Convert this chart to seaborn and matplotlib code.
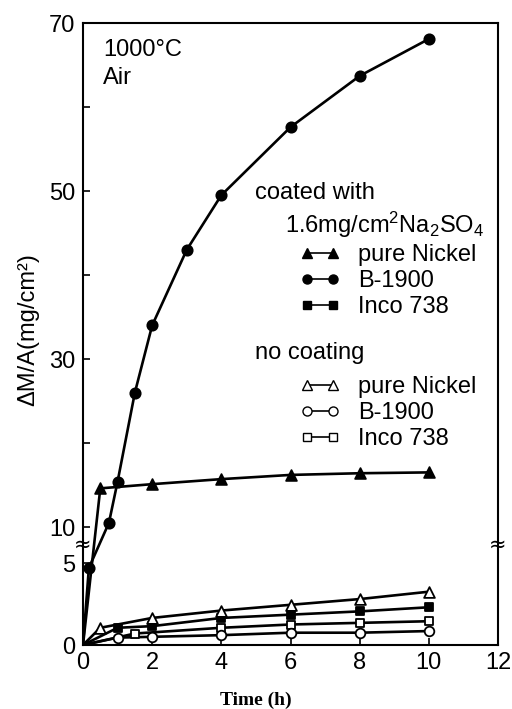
import numpy as np
import pandas as pd
import matplotlib
matplotlib.use("Agg")
import matplotlib.pyplot as plt
from matplotlib.lines import Line2D
import matplotlib.transforms as mtransforms
import seaborn as sns

# ---------------- data ----------------
t_ni_coat = [0, 0.5, 2, 4, 6, 8, 10]
y_ni_coat = [0, 14.6, 15.1, 15.7, 16.2, 16.4, 16.5]

t_b19_coat = [0, 0.17, 0.75, 1, 1.5, 2, 3, 4, 6, 8, 10]
y_b19_coat = [0, 4.7, 10.5, 15.4, 26.0, 34.0, 43.0, 49.5, 57.6, 63.7, 68.1]

t_inco_coat = [0, 1, 2, 4, 6, 8, 10]
y_inco_coat = [0, 1.05, 1.15, 1.65, 1.85, 2.05, 2.3]

t_ni_bare = [0, 0.5, 2, 4, 6, 8, 10]
y_ni_bare = [0, 1.05, 1.65, 2.1, 2.45, 2.8, 3.25]

t_b19_bare = [0, 1, 2, 4, 6, 8, 10]
y_b19_bare = [0, 0.45, 0.5, 0.6, 0.75, 0.75, 0.85]

t_inco_bare = [0, 1.5, 4, 6, 8, 10]
y_inco_bare = [0, 0.7, 1.05, 1.25, 1.35, 1.45]

x_ticks = [0, 2, 4, 6, 8, 10, 12]
y_ticks = [0, 5, 10, 30, 50, 70]
y_minor = [20, 40, 60]

legend_names = ["pure Nickel", "B-1900", "Inco 738"]

# ---------------- style ----------------
sns.set_theme(style="ticks")
plt.rcParams["font.family"] = ["Liberation Sans", "DejaVu Sans"]
plt.rcParams["mathtext.fontset"] = "custom"
plt.rcParams["mathtext.rm"] = "Liberation Sans"
plt.rcParams["mathtext.it"] = "Liberation Sans"
plt.rcParams["text.color"] = "black"
plt.rcParams["axes.labelcolor"] = "black"
plt.rcParams["xtick.color"] = "black"
plt.rcParams["ytick.color"] = "black"
FS = 17

fig = plt.figure(figsize=(5.12, 7.09), dpi=100)
W, H = 512, 709
ax = fig.add_axes([83 / W, 1 - 645 / H, 415 / W, 622 / H])


# broken (piecewise linear) y scale
def fwd(y):
    y = np.asarray(y, dtype=float)
    return np.where(y <= 5, y * 16.4,
                    np.where(y <= 10, 82 + (y - 5) * 7.2, 118 + (y - 10) * 8.4))


def inv(u):
    u = np.asarray(u, dtype=float)
    return np.where(u <= 82, u / 16.4,
                    np.where(u <= 118, 5 + (u - 82) / 7.2, 10 + (u - 118) / 8.4))


ax.set_yscale("function", functions=(fwd, inv))

series = [
    (t_b19_coat, y_b19_coat, "o", "black", 55),
    (t_ni_coat, y_ni_coat, "^", "black", 60),
    (t_inco_coat, y_inco_coat, "s", "black", 38),
    (t_ni_bare, y_ni_bare, "^", "white", 60),
    (t_inco_bare, y_inco_bare, "s", "white", 38),
    (t_b19_bare, y_b19_bare, "o", "white", 48),
]

for t, y, m, fc, s in series:
    df = pd.DataFrame({"t": t, "y": y})
    sns.lineplot(data=df, x="t", y="y", ax=ax, color="black", lw=1.9,
                 sort=False, estimator=None, zorder=2)
    pts = df[df["t"] > 0]
    sns.scatterplot(data=pts, x="t", y="y", ax=ax, marker=m, s=s,
                    facecolor=fc, edgecolor="black", linewidth=1.3, zorder=3)

ax.set_xlim(0, 12)
ax.set_ylim(0, 70)
ax.set_xticks(x_ticks)
ax.set_xticklabels([str(v) for v in x_ticks])
ax.set_yticks(y_ticks)
ax.set_yticklabels([str(v) for v in y_ticks])
ax.set_yticks(y_minor, minor=True)
ax.set_xlabel("")
ax.set_ylabel("")
ax.tick_params(axis="both", which="both", direction="in", length=5, width=1.2,
               colors="black", labelsize=FS, labelcolor="black")
ax.tick_params(axis="x", pad=5)
ax.tick_params(axis="y", pad=5.5)
for sp in ax.spines.values():
    sp.set_visible(True)
    sp.set_linewidth(1.5)
    sp.set_color("black")

# break marks on the y axis
bt = mtransforms.blended_transform_factory(ax.transAxes, ax.transData)
for xa in (0, 1):
    ax.text(xa, 7.6, "≈", transform=bt, ha="center", va="center",
            fontsize=15, color="black", family="DejaVu Sans")

# annotations
fig.text(103 / W, 1 - 50 / H, "1000°C", ha="left", va="center", fontsize=FS)
fig.text(103 / W, 1 - 78 / H, "Air", ha="left", va="center", fontsize=FS)
fig.text(255 / W, 1 - 193 / H, "coated with", ha="left", va="center", fontsize=FS)
fig.text(285 / W, 1 - 225 / H, r"1.6mg/cm$^{2}$Na$_{2}$SO$_{4}$", ha="left",
         va="center", fontsize=FS)
fig.text(255 / W, 1 - 353 / H, "no coating", ha="left", va="center", fontsize=FS)


# legends
def handles(fc):
    return [Line2D([], [], color="black", lw=1.2, marker=m, ms=ms,
                   markerfacecolor=fc, markeredgecolor="black", mew=1.0)
            for m, ms in (("^", 6.5), ("o", 6.5), ("s", 5.5))]


common = dict(loc="upper left", bbox_transform=fig.transFigure, frameon=False,
              numpoints=2, handlelength=1.7, handletextpad=0.75,
              labelspacing=0.17, borderpad=0, borderaxespad=0,
              prop={"size": FS, "family": "Liberation Sans"})
leg1 = ax.legend(handles("black"), legend_names,
                 bbox_to_anchor=(300 / W, 1 - 244 / H), **common)
for txt in leg1.get_texts():
    txt.set_color("black")
ax.add_artist(leg1)
leg2 = ax.legend(handles("white"), legend_names,
                 bbox_to_anchor=(300 / W, 1 - 376 / H), **common)
for txt in leg2.get_texts():
    txt.set_color("black")

# axis labels
fig.text(28 / W, 1 - 330 / H, "ΔM/A(mg/cm²)", rotation=90, ha="center",
         va="center", fontsize=FS)
fig.text(256 / W, 1 - 700 / H, "Time (h)", ha="center", va="center",
         fontsize=14, fontweight="bold", family=["Liberation Serif", "DejaVu Serif"])

fig.savefig("out.png", dpi=100)
